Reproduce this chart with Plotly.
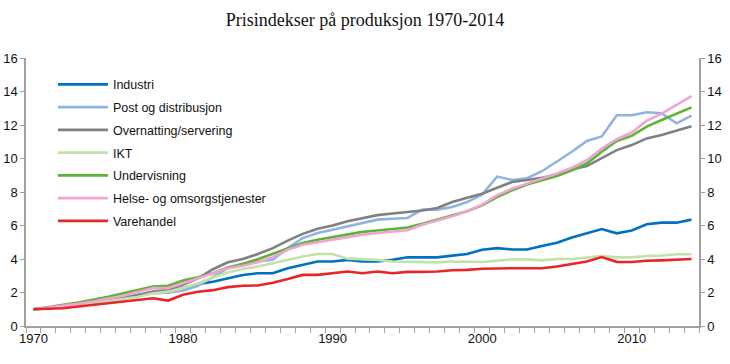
import plotly.graph_objects as go

years = list(range(1970, 2015))

industri = [1.0, 1.08, 1.16, 1.27, 1.4, 1.55, 1.7, 1.85, 2.0, 2.0,
            2.25, 2.5, 2.64, 2.85, 3.05, 3.15, 3.15, 3.45, 3.65, 3.85,
            3.85, 3.95, 3.85, 3.85, 3.95, 4.1, 4.1, 4.1, 4.2, 4.3,
            4.55, 4.65, 4.57, 4.57, 4.78, 4.97, 5.28, 5.53, 5.79, 5.53,
            5.7, 6.07, 6.17, 6.17, 6.35]
post = [1.0, 1.05, 1.15, 1.25, 1.35, 1.5, 1.65, 1.85, 1.95, 2.0,
        2.1, 2.4, 2.9, 3.45, 3.65, 3.85, 3.95, 4.65, 5.25, 5.55,
        5.75, 5.95, 6.15, 6.35, 6.4, 6.45, 6.95, 6.95, 7.1, 7.4,
        7.85, 8.92, 8.72, 8.82, 9.24, 9.8, 10.4, 11.05, 11.32, 12.58,
        12.58, 12.76, 12.7, 12.1, 12.56]
overnatting = [1.0, 1.07, 1.15, 1.26, 1.38, 1.5, 1.66, 1.85, 2.06, 2.16,
               2.46, 2.85, 3.39, 3.8, 4.0, 4.3, 4.65, 5.1, 5.5, 5.8,
               6.0, 6.25, 6.45, 6.62, 6.72, 6.8, 6.9, 7.05, 7.4, 7.65,
               7.9, 8.25, 8.6, 8.72, 8.85, 9.05, 9.35, 9.55, 10.05, 10.5,
               10.8, 11.2, 11.4, 11.65, 11.92]
ikt = [1.0, 1.07, 1.15, 1.25, 1.35, 1.47, 1.6, 1.75, 1.95, 2.05,
       2.25, 2.55, 2.9, 3.2, 3.4, 3.55, 3.75, 3.95, 4.15, 4.3,
       4.3, 4.02, 4.0, 3.95, 3.85, 3.82, 3.8, 3.8, 3.85, 3.82,
       3.82, 3.9, 3.98, 3.98, 3.92, 4.0, 4.0, 4.08, 4.18, 4.1,
       4.1, 4.18, 4.2, 4.28, 4.28]
undervisning = [1.0, 1.15, 1.26, 1.4, 1.56, 1.75, 1.96, 2.15, 2.36, 2.4,
                2.71, 2.91, 3.15, 3.5, 3.71, 3.99, 4.31, 4.65, 4.95, 5.15,
                5.31, 5.45, 5.62, 5.7, 5.78, 5.88, 6.1, 6.35, 6.6, 6.85,
                7.2, 7.7, 8.1, 8.45, 8.7, 8.95, 9.3, 9.7, 10.4, 11.05,
                11.35, 11.9, 12.3, 12.68, 13.05]
helse = [1.0, 1.1, 1.2, 1.32, 1.46, 1.62, 1.8, 2.05, 2.26, 2.26,
         2.55, 2.85, 3.15, 3.45, 3.6, 3.8, 4.11, 4.55, 4.85, 5.0,
         5.15, 5.3, 5.45, 5.55, 5.62, 5.72, 6.05, 6.28, 6.55, 6.85,
         7.25, 7.8, 8.2, 8.5, 8.8, 9.1, 9.45, 9.9, 10.6, 11.15,
         11.55, 12.25, 12.68, 13.2, 13.72]
varehandel = [1.0, 1.04, 1.06, 1.16, 1.26, 1.38, 1.5, 1.6, 1.66, 1.52,
              1.86, 2.04, 2.14, 2.32, 2.4, 2.42, 2.58, 2.8, 3.05, 3.05,
              3.15, 3.25, 3.15, 3.25, 3.15, 3.23, 3.23, 3.25, 3.33, 3.35,
              3.42, 3.45, 3.45, 3.45, 3.45, 3.55, 3.68, 3.85, 4.12, 3.83,
              3.82, 3.9, 3.92, 3.94, 4.0]

series_names = ["Industri", "Post og distribusjon", "Overnatting/servering", "IKT",
                "Undervisning", "Helse- og omsorgstjenester", "Varehandel"]
series_values = [industri, post, overnatting, ikt, undervisning, helse, varehandel]
series_colors = ["#0070C0", "#8EB4E3", "#808080", "#C3E2AA",
                 "#5DB334", "#F2A2D4", "#E8262A"]

x_ticks = [1970, 1980, 1990, 2000, 2010]
y_ticks = [0, 2, 4, 6, 8, 10, 12, 14, 16]

fig = go.Figure()
for name, vals, col in zip(series_names, series_values, series_colors):
    fig.add_trace(go.Scatter(x=years, y=vals, name=name, mode="lines",
                             line=dict(color=col, width=2.6),
                             legendgroup=name))

# invisible companion trace so the right-hand axis is drawn
fig.add_trace(go.Scatter(x=years, y=varehandel, yaxis="y2", mode="lines",
                         line=dict(width=0, color="rgba(0,0,0,0)"),
                         showlegend=False, hoverinfo="skip"))

axis_col = "#A0A0A0"
tick_font = dict(family="Liberation Sans, Arial, sans-serif", size=13, color="#111")

fig.update_layout(
    width=730, height=364,
    margin=dict(l=26, r=31, t=58, b=38, autoexpand=False),
    paper_bgcolor="white", plot_bgcolor="white",
    title=dict(text="Prisindekser på produksjon 1970-2014",
               font=dict(family="Liberation Serif, Times New Roman, serif", size=18, color="#111"),
               x=0.5, xanchor="center", y=0.945, yanchor="middle"),
    showlegend=True,
    legend=dict(x=0.04, y=0.956, xanchor="left", yanchor="top", itemwidth=50,
                bgcolor="rgba(0,0,0,0)", tracegroupgap=3.5,
                font=dict(family="Liberation Sans, Arial, sans-serif", size=12.5, color="#111")),
    xaxis=dict(range=[1969.5, 2014.5], tickmode="array", tickvals=x_ticks,
               ticktext=[str(v) for v in x_ticks], ticks="", showgrid=False,
               showline=True, linecolor=axis_col, linewidth=1.5, zeroline=False,
               tickfont=tick_font, automargin=False,
               minor=dict(ticks="outside", tickmode="linear", tick0=1969.5, dtick=1,
                          ticklen=5, tickcolor=axis_col, tickwidth=1, showgrid=False)),
    yaxis=dict(range=[0, 16], tickmode="array", tickvals=y_ticks, ticks="outside",
               ticklen=4, tickcolor=axis_col, showgrid=False, showline=True,
               linecolor=axis_col, linewidth=1.5, zeroline=False, tickfont=tick_font,
               automargin=False),
    yaxis2=dict(range=[0, 16], tickmode="array", tickvals=y_ticks, ticks="outside",
                ticklen=4, tickcolor=axis_col, showgrid=False, showline=True,
                linecolor=axis_col, linewidth=1.5, zeroline=False, tickfont=tick_font,
                overlaying="y", side="right", anchor="x", automargin=False),
)

fig.write_html("out.html",
               config={"displayModeBar": False},
               post_script="document.body.style.margin='0';document.body.style.padding='0';")
